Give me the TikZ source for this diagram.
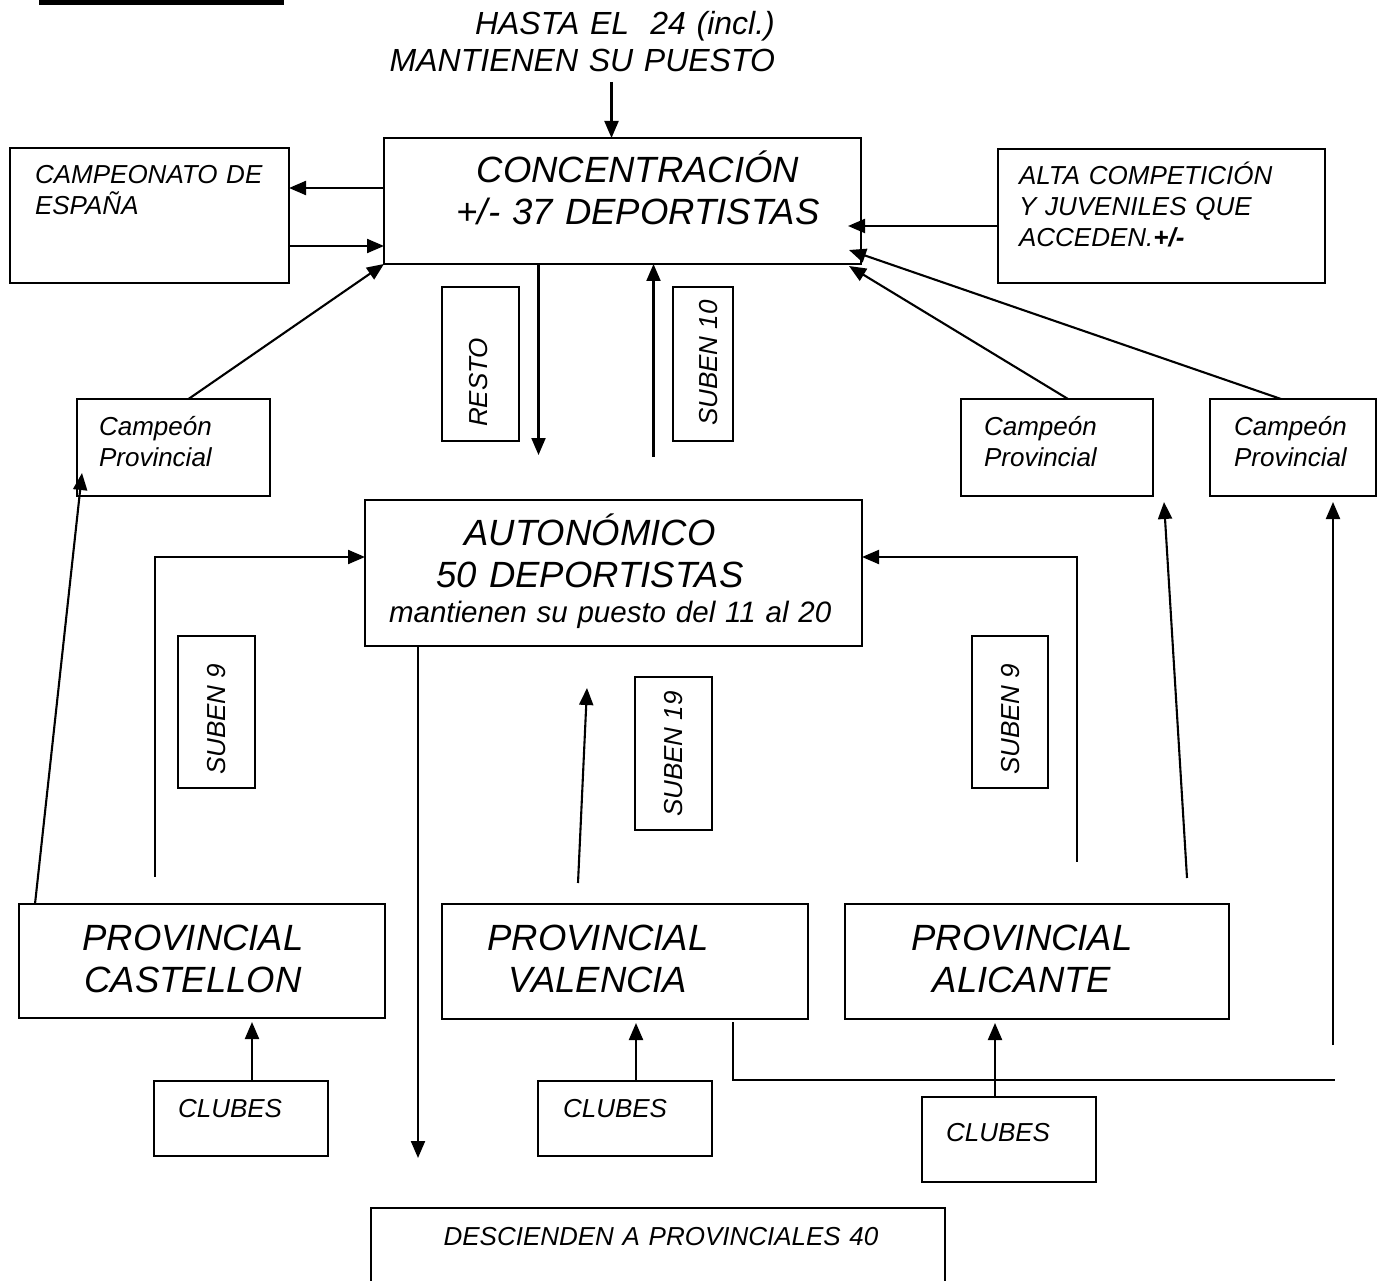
\documentclass[tikz,border=0pt]{standalone}
\usepackage{fontspec}
\setmainfont{Liberation Sans}
\usetikzlibrary{arrows.meta}
\newcommand\fbig{\fontsize{36.5}{42}\selectfont}
\newcommand\fmed{\fontsize{32}{37}\selectfont}
\newcommand\fmant{\fontsize{29.5}{35}\selectfont}
\newcommand\fsmall{\fontsize{26}{31}\selectfont}
\begin{document}
\begin{tikzpicture}[
x=1pt, y=-1pt,
caja/.style={draw, inner sep=0pt, outer sep=0pt, anchor=north west},
txt/.style={inner sep=0pt, text width=#1},
txt/.default=480pt,
vert/.style={inner sep=0pt, font=\itshape\fsmall, rotate=90, anchor=base west},
>={Triangle[length=17pt,width=14pt]}, line width=2.1pt
]
\useasboundingbox (0,0) rectangle (1378,1281);
\fill (39,0) rectangle (284,5);
% cajas
\node[caja, minimum width=477, minimum height=126] (conc) at (384,138) {};
\node[caja, minimum width=279, minimum height=135] (esp) at (10,148) {};
\node[caja, minimum width=327, minimum height=134] (alta) at (998,149) {};
\node[caja, minimum width=193, minimum height=97] (campL) at (77,399) {};
\node[caja, minimum width=192, minimum height=97] (campM) at (961,399) {};
\node[caja, minimum width=166, minimum height=97] (campR) at (1210,399) {};
\node[caja, minimum width=77, minimum height=154] (resto) at (442,287) {};
\node[caja, minimum width=60, minimum height=154] (sub10) at (673,287) {};
\node[caja, minimum width=497, minimum height=146] (auto) at (365,500) {};
\node[caja, minimum width=77, minimum height=152] (sub9L) at (178,636) {};
\node[caja, minimum width=76, minimum height=152] (sub9R) at (972,636) {};
\node[caja, minimum width=77, minimum height=153] (sub19) at (635,677) {};
\node[caja, minimum width=366, minimum height=114] (provC) at (19,904) {};
\node[caja, minimum width=366, minimum height=115] (provV) at (442,904) {};
\node[caja, minimum width=384, minimum height=115] (provA) at (845,904) {};
\node[caja, minimum width=174, minimum height=75] (clubC) at (154,1081) {};
\node[caja, minimum width=174, minimum height=75] (clubV) at (538,1081) {};
\node[caja, minimum width=174, minimum height=85] (clubA) at (922,1097) {};
\node[caja, minimum width=574, minimum height=100] (desc) at (371,1208) {};
% textos
\node[txt=400pt, align=right, anchor=base east, font=\itshape\fmed] (hasta) at (776,35)
  {HASTA EL\ \ 24 (incl.)\\ MANTIENEN SU PUESTO};
\node[txt, align=center, anchor=base, font=\itshape\fbig] (tconc) at (638,183)
  {CONCENTRACIÓN\\ +/- 37 DEPORTISTAS};
\node[txt, align=left, anchor=base west, font=\itshape\fsmall] (tesp) at (34,184)
  {CAMPEONATO DE\\ ESPAÑA};
\node[txt, align=left, anchor=base west, font=\itshape\fsmall] (talta) at (1018,185)
  {ALTA COMPETICIÓN\\ Y JUVENILES QUE\\ ACCEDEN.\textbf{+/-}};
\node[txt, align=left, anchor=base west, font=\itshape\fsmall] (tcampL) at (98,435) {Campeón\\ Provincial};
\node[txt, align=left, anchor=base west, font=\itshape\fsmall] (tcampM) at (983,435) {Campeón\\ Provincial};
\node[txt, align=left, anchor=base west, font=\itshape\fsmall] (tcampR) at (1233,435) {Campeón\\ Provincial};
\node[vert] (tresto) at (487,428) {RESTO};
\node[vert] (tsub10) at (717,427) {SUBEN 10};
\node[vert] (tsub9L) at (225,776) {SUBEN 9};
\node[vert] (tsub9R) at (1019,776) {SUBEN 9};
\node[vert] (tsub19) at (682,818) {SUBEN 19};
\node[txt, align=center, anchor=base, font=\itshape\fbig] (tauto) at (590,545)
  {AUTONÓMICO\\ 50 DEPORTISTAS};
\node[txt, align=left, anchor=base west, font=\itshape\fmant] (tmant) at (388,622)
  {mantienen su puesto del 11 al 20};
\node[txt, align=center, anchor=base, font=\itshape\fbig] (tprovC) at (193,950) {PROVINCIAL\\ CASTELLON};
\node[txt, align=center, anchor=base, font=\itshape\fbig] (tprovV) at (598,950) {PROVINCIAL\\ VALENCIA};
\node[txt, align=center, anchor=base, font=\itshape\fbig] (tprovA) at (1022,950) {PROVINCIAL\\ ALICANTE};
\node[txt, align=left, anchor=base west, font=\itshape\fsmall] (tclubC) at (177,1117) {CLUBES};
\node[txt, align=left, anchor=base west, font=\itshape\fsmall] (tclubV) at (562,1117) {CLUBES};
\node[txt, align=left, anchor=base west, font=\itshape\fsmall] (tclubA) at (945,1141) {CLUBES};
\node[txt, align=center, anchor=base, font=\itshape\fsmall] (tdesc) at (661,1245) {DESCIENDEN A PROVINCIALES 40};
% flechas
\draw[->] ([xshift=-11pt,yshift=56pt]conc.north) -- ([xshift=-11pt]conc.north);
\draw[->] ([yshift=13pt]conc.west) -- ([yshift=13pt]conc.west -| esp.east);
\draw[->] ([yshift=-45pt]conc.west -| esp.east) -- ([yshift=-45pt]conc.west);
\draw[->] ([xshift=15pt]campL.north) -- (conc.south west);
\draw[->] ([yshift=-10pt]alta.west) -- ([xshift=-13pt,yshift=-10pt]alta.west -| conc.east);
\draw[->] ([xshift=11pt]campM.north) -- ([xshift=-12pt,yshift=-2pt]conc.south east);
\draw[->] ([xshift=-12pt]campR.north) -- ([xshift=-12pt,yshift=14pt]conc.south east);
\draw[->] ([xshift=-84pt]conc.south) -- ++(0,191);
\draw[<-] ([xshift=31pt]conc.south) -- ++(0,193);
\draw[<-] ([yshift=16pt]auto.west) -| ([xshift=-47pt,yshift=27pt]provC.north);
\draw[<-] ([yshift=16pt]auto.east) -| ([xshift=40pt,yshift=42pt]provA.north);
\draw[->] ([xshift=-47pt,yshift=21pt]provV.north) -- ++(9,-195);
\draw[->] ([xshift=53pt]auto.south west) -- ++(0,512);
\draw[->] ([xshift=16pt]provC.north west) -- ([xshift=5pt,yshift=23pt]campL.south west);
\draw[->] ([xshift=-42pt,yshift=26pt]provA.north east) -- ([xshift=11pt,yshift=-6pt]campM.south east);
\draw ([xshift=-75pt,yshift=-3pt]provV.south east) -- ++(0,58) -- ++(602,0);
\draw[->] ([xshift=40pt,yshift=-549pt]campR.south) -- ([xshift=40pt,yshift=-6pt]campR.south);
\draw[->] ([xshift=11pt]clubC.north) -- ([xshift=11pt,yshift=-4pt]clubC.north |- provC.south);
\draw[->] ([xshift=11pt]clubV.north) -- ([xshift=11pt,yshift=-4pt]clubV.north |- provV.south);
\draw[->] ([xshift=-14pt]clubA.north) -- ([xshift=-14pt,yshift=-4pt]clubA.north |- provA.south);
\end{tikzpicture}
\end{document}
